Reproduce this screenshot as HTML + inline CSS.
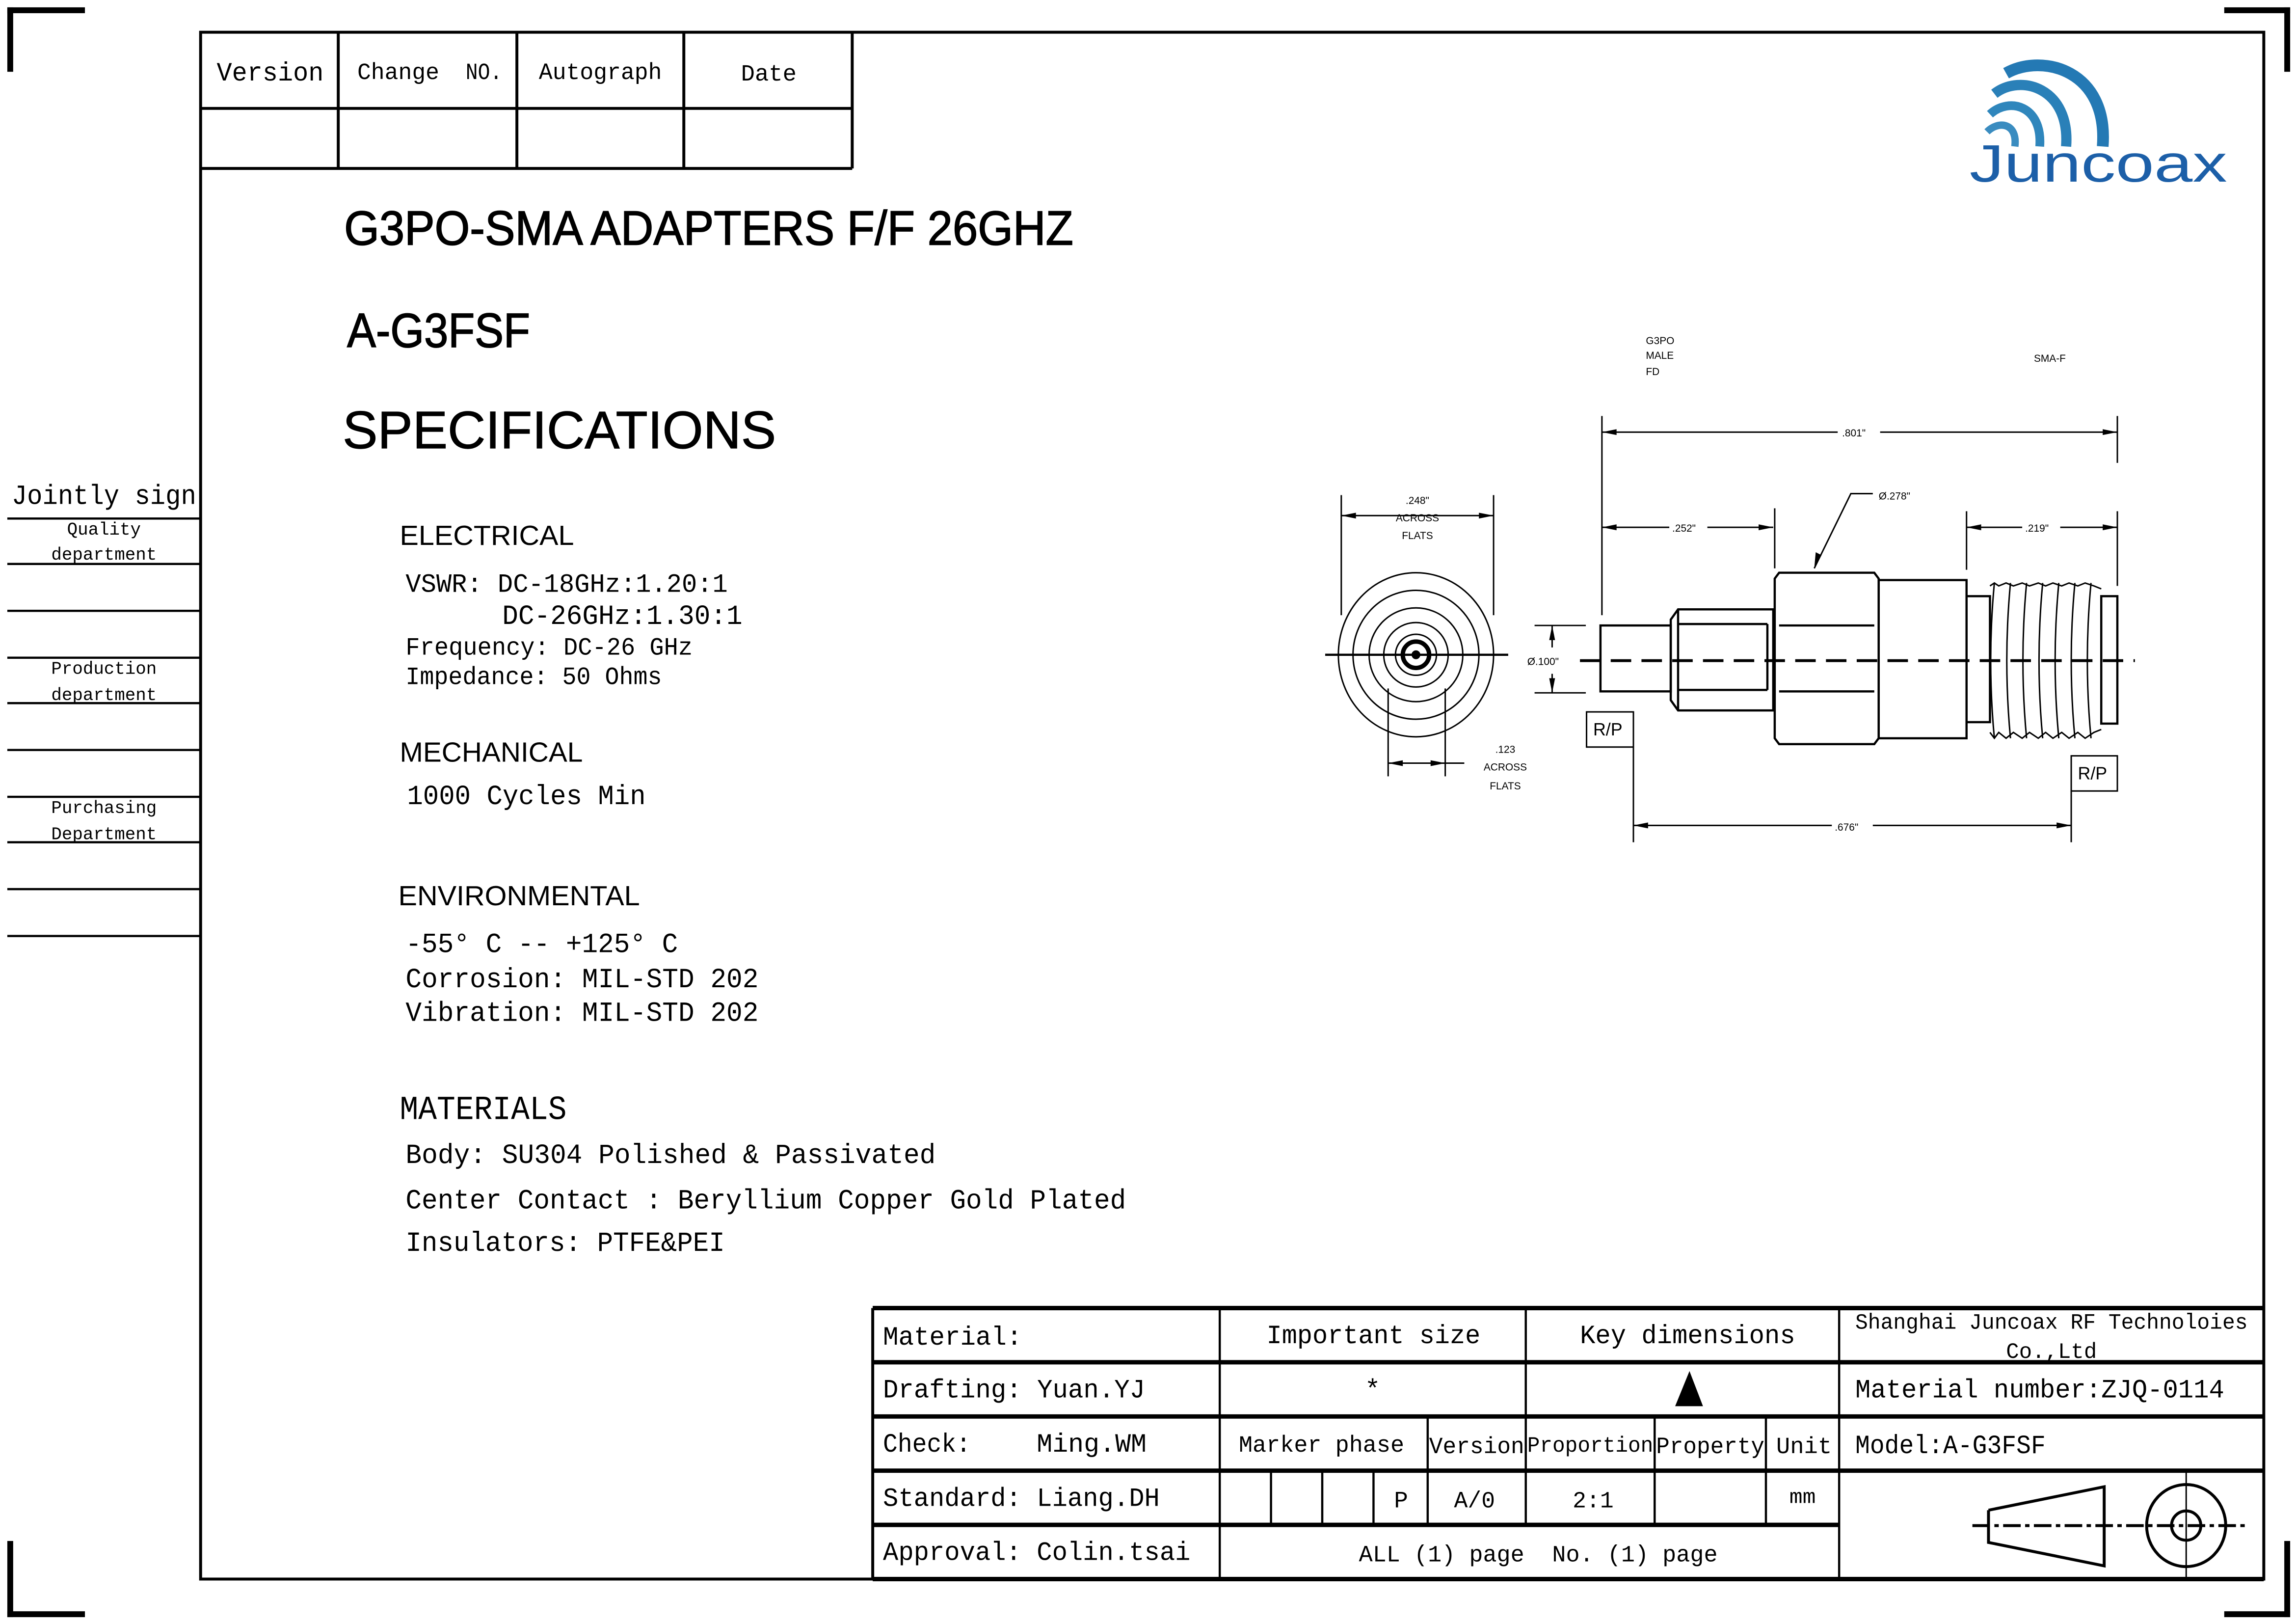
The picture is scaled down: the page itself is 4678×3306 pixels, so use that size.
<!DOCTYPE html>
<html><head><meta charset="utf-8"><style>
html,body{margin:0;padding:0;background:#fff;}
svg{display:block;}
.m{font-family:"Liberation Mono","Noto Sans CJK SC",monospace;fill:#000;}
.s{font-family:"Liberation Sans",Arial,sans-serif;fill:#000;}
.ss{font-family:"Liberation Sans",sans-serif;font-size:7px;fill:#000;}
</style></head><body>
<svg width="4678" height="3306" viewBox="0 0 1568 1108" preserveAspectRatio="none" xmlns="http://www.w3.org/2000/svg">
<rect width="1568" height="1108" fill="#fff"/>
<g fill="#000">
<rect x="5" y="5" width="53" height="4"/><rect x="5" y="5" width="4" height="44"/>
<rect x="1519" y="5" width="45" height="4"/><rect x="1560" y="5" width="4" height="44"/>
<rect x="5" y="1100" width="53" height="4"/><rect x="5" y="1052" width="4" height="52"/>
<rect x="1519" y="1100" width="45" height="4"/><rect x="1560" y="1052" width="4" height="52"/>
</g>
<rect x="137" y="22" width="1409" height="1056" fill="none" stroke="#000" stroke-width="2"/>
<g stroke="#000" stroke-width="2" fill="none">
<line x1="137" y1="74" x2="582" y2="74"/><line x1="137" y1="115" x2="582" y2="115"/>
<line x1="231" y1="22" x2="231" y2="115"/><line x1="353" y1="22" x2="353" y2="115"/>
<line x1="467" y1="22" x2="467" y2="115"/><line x1="582" y1="22" x2="582" y2="115"/>
</g>
<text class="m" x="148" y="55" font-size="18" textLength="73" lengthAdjust="spacingAndGlyphs">Version</text>
<text class="m" x="244" y="54" font-size="16" textLength="56" lengthAdjust="spacingAndGlyphs">Change</text>
<text class="m" x="318" y="54" font-size="16" textLength="25" lengthAdjust="spacingAndGlyphs">NO.</text>
<text class="m" x="368" y="54" font-size="16" textLength="84" lengthAdjust="spacingAndGlyphs">Autograph</text>
<text class="m" x="506" y="55" font-size="16" textLength="38" lengthAdjust="spacingAndGlyphs">Date</text>
<text class="m" x="8" y="344" font-size="19" textLength="126" lengthAdjust="spacingAndGlyphs">Jointly sign</text>
<g stroke="#000" stroke-width="1.5">
<line x1="5" y1="354" x2="137" y2="354"/><line x1="5" y1="385" x2="137" y2="385"/>
<line x1="5" y1="417" x2="137" y2="417"/><line x1="5" y1="449" x2="137" y2="449"/>
<line x1="5" y1="480" x2="137" y2="480"/><line x1="5" y1="512" x2="137" y2="512"/>
<line x1="5" y1="544" x2="137" y2="544"/><line x1="5" y1="575" x2="137" y2="575"/>
<line x1="5" y1="607" x2="137" y2="607"/><line x1="5" y1="639" x2="137" y2="639"/>
</g>
<g class="m" font-size="12" text-anchor="middle">
<text x="71" y="365">Quality</text><text x="71" y="382">department</text>
<text x="71" y="460">Production</text><text x="71" y="478">department</text>
<text x="71" y="555">Purchasing</text><text x="71" y="573">Department</text>
</g>
<!-- logo -->
<g fill="none" stroke-linecap="butt">
<path d="M1357 90 C1365 82 1378 84 1376 100" stroke="#3a8cc0" stroke-width="5"/>
<path d="M1359 78 C1372 66 1395 72 1393 100" stroke="#2f86bc" stroke-width="6"/>
<path d="M1362 64 C1380 50 1414 60 1411 100" stroke="#2a80b8" stroke-width="7"/>
<path d="M1370 50 C1395 36 1440 48 1436 100" stroke="#2479b4" stroke-width="8"/>
</g>
<text x="1345" y="124" font-family="Liberation Sans,sans-serif" font-size="36" fill="#1c5fa8" textLength="176" lengthAdjust="spacingAndGlyphs">Juncoax</text>
<text class="s" x="235" y="167" font-size="33" stroke="#000" stroke-width="0.6" textLength="498" lengthAdjust="spacingAndGlyphs">G3PO-SMA ADAPTERS  F/F 26GHZ</text>
<text class="s" x="237" y="237" font-size="33" stroke="#000" stroke-width="0.6" textLength="125" lengthAdjust="spacingAndGlyphs">A-G3FSF</text>
<text class="s" x="234" y="306" font-size="36" stroke="#000" stroke-width="0.4" textLength="296" lengthAdjust="spacingAndGlyphs">SPECIFICATIONS</text>
<text class="s" x="273" y="372" font-size="19" textLength="119" lengthAdjust="spacingAndGlyphs">ELECTRICAL</text>
<text class="m" x="277" y="404" font-size="18" textLength="220" lengthAdjust="spacingAndGlyphs">VSWR:  DC-18GHz:1.20:1</text>
<text class="m" x="343" y="426" font-size="19" textLength="164" lengthAdjust="spacingAndGlyphs">DC-26GHz:1.30:1</text>
<text class="m" x="277" y="447" font-size="17" textLength="196" lengthAdjust="spacingAndGlyphs">Frequency: DC-26 GHz</text>
<text class="m" x="277" y="467" font-size="17" textLength="175" lengthAdjust="spacingAndGlyphs">Impedance: 50 Ohms</text>
<text class="s" x="273" y="520" font-size="19" textLength="125" lengthAdjust="spacingAndGlyphs">MECHANICAL</text>
<text class="m" x="278" y="549" font-size="19" textLength="163" lengthAdjust="spacingAndGlyphs">1000 Cycles Min</text>
<text class="s" x="272" y="618" font-size="19" textLength="165" lengthAdjust="spacingAndGlyphs">ENVIRONMENTAL</text>
<text class="m" x="277" y="650" font-size="19" textLength="186" lengthAdjust="spacingAndGlyphs">-55° C -- +125° C</text>
<text class="m" x="277" y="674" font-size="19" textLength="241" lengthAdjust="spacingAndGlyphs">Corrosion: MIL-STD 202</text>
<text class="m" x="277" y="697" font-size="19" textLength="241" lengthAdjust="spacingAndGlyphs">Vibration: MIL-STD 202</text>
<text class="m" x="273" y="764" font-size="23" textLength="114" lengthAdjust="spacingAndGlyphs">MATERIALS</text>
<text class="m" x="277" y="794" font-size="19" textLength="362" lengthAdjust="spacingAndGlyphs">Body: SU304 Polished &amp; Passivated</text>
<text class="m" x="277" y="825" font-size="19" textLength="492" lengthAdjust="spacingAndGlyphs">Center Contact : Beryllium Copper Gold Plated</text>
<text class="m" x="277" y="854" font-size="19" textLength="218" lengthAdjust="spacingAndGlyphs">Insulators: PTFE&amp;PEI</text>

<g fill="none" stroke="#000">
<line x1="905" y1="447" x2="1030" y2="447" stroke-width="1.5"/>
<ellipse cx="967" cy="447" rx="53" ry="56" stroke-width="1"/>
<ellipse cx="967" cy="447" rx="43" ry="44" stroke-width="1"/>
<circle cx="967" cy="447" r="32" stroke-width="1"/>
<circle cx="967" cy="447" r="22" stroke-width="1"/>
<circle cx="967" cy="447" r="14" stroke-width="1"/>
<circle cx="967" cy="447" r="9" stroke-width="3"/>
<circle cx="967" cy="447" r="2.5" fill="#000"/>
<line x1="916" y1="338" x2="916" y2="420" stroke-width="1"/>
<line x1="1020" y1="338" x2="1020" y2="420" stroke-width="1"/>
<line x1="916" y1="352" x2="1020" y2="352" stroke-width="1"/>
<line x1="948" y1="470" x2="948" y2="530" stroke-width="1"/>
<line x1="987" y1="470" x2="987" y2="530" stroke-width="1"/>
<line x1="948" y1="521" x2="1000" y2="521" stroke-width="1"/>
</g>
<g fill="#000">
<polygon points="916,352 926,350 926,354"/><polygon points="1020,352 1010,350 1010,354"/>
<polygon points="948,521 958,519 958,523"/><polygon points="987,521 977,519 977,523"/>
</g>
<g class="ss" text-anchor="middle" font-size="9">
<text x="968" y="344">.248"</text><text x="968" y="356">ACROSS</text><text x="968" y="368">FLATS</text>
<text x="1028" y="514">.123</text><text x="1028" y="526">ACROSS</text><text x="1028" y="539">FLATS</text>
</g>
<g fill="none" stroke="#000" stroke-width="1.5">
<rect x="1093" y="427" width="48" height="45"/>
<path d="M1146 416 L1211 416 L1211 485 L1146 485 L1141 478 L1141 423 Z"/>
<line x1="1146" y1="426" x2="1207" y2="426"/><line x1="1146" y1="471" x2="1207" y2="471"/>
<line x1="1207" y1="426" x2="1207" y2="471"/><line x1="1146" y1="416" x2="1146" y2="485"/>
<path d="M1215 391 L1280 391 L1283 395 L1283 504 L1280 508 L1215 508 L1212 504 L1212 395 Z"/>
<line x1="1215" y1="427" x2="1280" y2="427"/><line x1="1215" y1="472" x2="1280" y2="472"/>
<rect x="1283" y="396" width="60" height="108"/>
<rect x="1343" y="407" width="16" height="86"/>
<rect x="1435" y="407" width="11" height="87"/>
</g>
<g fill="none" stroke="#000" stroke-width="1">
<path d="M1359 400 L1362 398 L1365 400 L1370 398 L1375 400 L1381 398 L1386 400 L1392 398 L1397 400 L1402 398 L1408 400 L1413 398 L1419 400 L1424 398 L1430 400 L1435 402"/>
<path d="M1359 500 L1362 504 L1365 500 L1370 504 L1375 500 L1381 504 L1386 500 L1392 504 L1397 500 L1402 504 L1408 500 L1413 504 L1419 500 L1424 504 L1430 500 L1435 498"/>
<path d="M1362 398 Q1357 451 1362 504 M1373 398 Q1368 451 1373 504 M1384 398 Q1379 451 1384 504 M1395 398 Q1390 451 1395 504 M1406 398 Q1401 451 1406 504 M1417 398 Q1412 451 1417 504 M1428 398 Q1423 451 1428 504"/>
</g>
<line x1="1079" y1="451" x2="1458" y2="451" stroke="#000" stroke-width="2" stroke-dasharray="14,7"/>
<g fill="none" stroke="#000" stroke-width="1">
<line x1="1048" y1="427" x2="1083" y2="427"/><line x1="1048" y1="473" x2="1083" y2="473"/>
<line x1="1060" y1="427" x2="1060" y2="442"/><line x1="1060" y1="460" x2="1060" y2="473"/>
<line x1="1094" y1="284" x2="1094" y2="420"/><line x1="1446" y1="284" x2="1446" y2="316"/>
<line x1="1094" y1="295" x2="1255" y2="295"/><line x1="1284" y1="295" x2="1446" y2="295"/>
<line x1="1094" y1="360" x2="1140" y2="360"/><line x1="1166" y1="360" x2="1211" y2="360"/>
<line x1="1212" y1="347" x2="1212" y2="388"/>
<line x1="1343" y1="349" x2="1343" y2="389"/><line x1="1446" y1="349" x2="1446" y2="400"/>
<line x1="1343" y1="360" x2="1381" y2="360"/><line x1="1407" y1="360" x2="1446" y2="360"/>
<polyline points="1239,388 1264,337 1279,337"/>
<rect x="1083.5" y="486" width="32" height="24"/><line x1="1115.5" y1="510" x2="1115.5" y2="575"/>
<rect x="1414.5" y="516" width="31.5" height="24"/><line x1="1414.5" y1="540" x2="1414.5" y2="575"/>
<line x1="1115.5" y1="563.5" x2="1251" y2="563.5"/><line x1="1279" y1="563.5" x2="1414.5" y2="563.5"/>
</g>
<g fill="#000">
<polygon points="1060,427 1058,437 1062,437"/><polygon points="1060,473 1058,463 1062,463"/>
<polygon points="1094,295 1104,293 1104,297"/><polygon points="1446,295 1436,293 1436,297"/>
<polygon points="1094,360 1104,358 1104,362"/><polygon points="1211,360 1201,358 1201,362"/>
<polygon points="1343,360 1353,358 1353,362"/><polygon points="1446,360 1436,358 1436,362"/>
<polygon points="1239,388 1240,377 1244,379"/>
<polygon points="1115.5,563.5 1125.5,561.5 1125.5,565.5"/><polygon points="1414.5,563.5 1404.5,561.5 1404.5,565.5"/>
</g>
<g class="ss" font-size="9">
<text x="1043" y="454">Ø.100"</text>
<text x="1258" y="298">.801"</text>
<text x="1142" y="363">.252"</text>
<text x="1383" y="363">.219"</text>
<text x="1283" y="341">Ø.278"</text>
<text x="1253" y="567">.676"</text>
<text x="1088" y="502" font-size="12">R/P</text>
<text x="1419" y="532" font-size="12">R/P</text>
<text x="1124" y="235">G3PO</text><text x="1124" y="245">MALE</text><text x="1124" y="256">FD</text>
<text x="1389" y="247">SMA-F</text>
</g>

<g stroke="#000" fill="none">
<line x1="596" y1="893" x2="1546" y2="893" stroke-width="3"/>
<line x1="596" y1="930" x2="1546" y2="930" stroke-width="3"/>
<line x1="596" y1="967" x2="1546" y2="967" stroke-width="3"/>
<line x1="596" y1="1004" x2="1546" y2="1004" stroke-width="3"/>
<line x1="596" y1="1041" x2="1256" y2="1041" stroke-width="3"/>
<line x1="596" y1="1078" x2="1546" y2="1078" stroke-width="3"/>
<line x1="596" y1="893" x2="596" y2="1078" stroke-width="2"/>
<line x1="833" y1="893" x2="833" y2="1078" stroke-width="1.5"/>
<line x1="1042" y1="893" x2="1042" y2="1041" stroke-width="1.5"/>
<line x1="1256" y1="893" x2="1256" y2="1078" stroke-width="1.5"/>
<line x1="975" y1="967" x2="975" y2="1041" stroke-width="1.5"/>
<line x1="1130" y1="967" x2="1130" y2="1041" stroke-width="1.5"/>
<line x1="1206" y1="967" x2="1206" y2="1041" stroke-width="1.5"/>
<line x1="868" y1="1004" x2="868" y2="1041" stroke-width="1.5"/>
<line x1="903" y1="1004" x2="903" y2="1041" stroke-width="1.5"/>
<line x1="938" y1="1004" x2="938" y2="1041" stroke-width="1.5"/>
</g>
<g class="m" font-size="18">
<text x="603" y="918" textLength="95" lengthAdjust="spacingAndGlyphs">Material:</text>
<text x="865" y="917" textLength="146" lengthAdjust="spacingAndGlyphs">Important size</text>
<text x="1079" y="917" textLength="147" lengthAdjust="spacingAndGlyphs">Key dimensions</text>
<text x="1267" y="907" font-size="15" textLength="268" lengthAdjust="spacingAndGlyphs">Shanghai Juncoax RF Technoloies</text>
<text x="1370" y="927" font-size="15" textLength="62" lengthAdjust="spacingAndGlyphs">Co.,Ltd</text>
<text x="603" y="954" textLength="179" lengthAdjust="spacingAndGlyphs">Drafting: Yuan.YJ</text>
<text x="932" y="954">*</text>
<text x="1267" y="954" textLength="252" lengthAdjust="spacingAndGlyphs">Material number:ZJQ-0114</text>
<text x="603" y="991" textLength="60" lengthAdjust="spacingAndGlyphs">Check:</text>
<text x="708" y="991" textLength="75" lengthAdjust="spacingAndGlyphs">Ming.WM</text>
<text x="846" y="991" font-size="16" textLength="113" lengthAdjust="spacingAndGlyphs">Marker phase</text>
<text x="976" y="992" font-size="16" textLength="65" lengthAdjust="spacingAndGlyphs">Version</text>
<text x="1043" y="991" font-size="15" textLength="86" lengthAdjust="spacingAndGlyphs">Proportion</text>
<text x="1131" y="992" font-size="16" textLength="74" lengthAdjust="spacingAndGlyphs">Property</text>
<text x="1213" y="992" font-size="16" textLength="38" lengthAdjust="spacingAndGlyphs">Unit</text>
<text x="1267" y="992" textLength="130" lengthAdjust="spacingAndGlyphs">Model:A-G3FSF</text>
<text x="603" y="1028" textLength="189" lengthAdjust="spacingAndGlyphs">Standard: Liang.DH</text>
<text x="952" y="1029" font-size="16">P</text>
<text x="993" y="1029" font-size="16" textLength="28" lengthAdjust="spacingAndGlyphs">A/0</text>
<text x="1074" y="1029" font-size="16" textLength="28" lengthAdjust="spacingAndGlyphs">2:1</text>
<text x="1222" y="1026" font-size="14" textLength="18" lengthAdjust="spacingAndGlyphs">mm</text>
<text x="603" y="1065" textLength="210" lengthAdjust="spacingAndGlyphs">Approval: Colin.tsai</text>
<text x="928" y="1066" font-size="16" textLength="113" lengthAdjust="spacingAndGlyphs">ALL (1) page</text>
<text x="1060" y="1066" font-size="16" textLength="113" lengthAdjust="spacingAndGlyphs">No. (1) page</text>
</g>
<polygon points="1153.8,936 1144,960 1163,960" fill="#000"/>
<g fill="none" stroke="#000">
<polyline points="1358,1031 1437,1015 1437,1069 1358,1053 1358,1031" stroke-width="2"/>
<ellipse cx="1493" cy="1041.5" rx="27" ry="28" stroke-width="2"/>
<circle cx="1493" cy="1041.5" r="10" stroke-width="2"/>
<line x1="1493" y1="1004" x2="1493" y2="1078" stroke-width="1"/>
<line x1="1347" y1="1041.5" x2="1534" y2="1041.5" stroke-width="2" stroke-dasharray="12,3,3,3"/>
</g>
</svg>
</body></html>
